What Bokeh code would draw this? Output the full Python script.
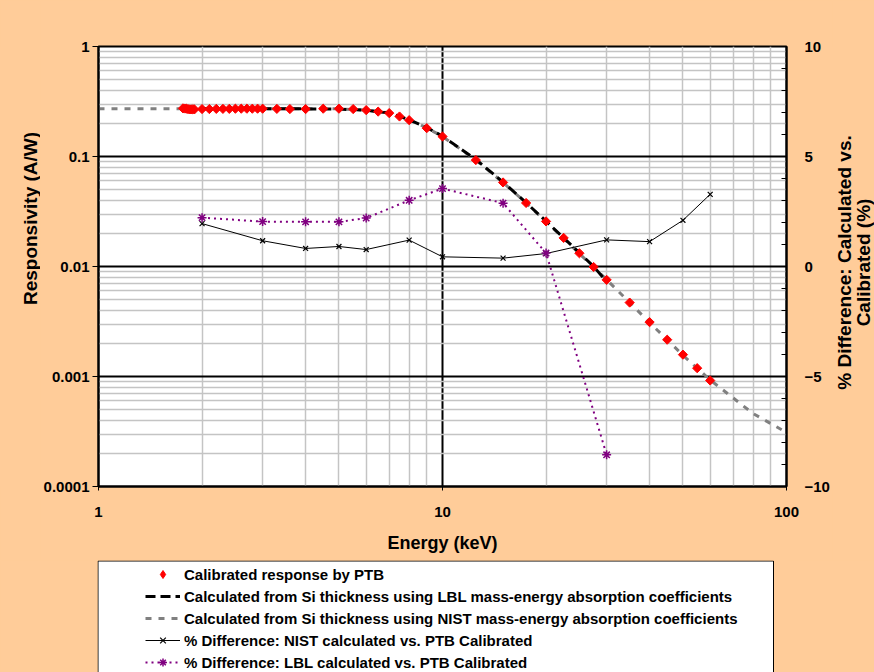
import numpy as np
from bokeh.plotting import figure
from bokeh.layouts import column, row
from bokeh.models import (Range1d, LinearAxis, LinearScale, FixedTicker,
                          CustomJSTickFormatter, Legend, LegendItem, Label)
from bokeh.embed import file_html
from bokeh.resources import INLINE

# ---------------- data ----------------
ptb_energy = [1.76, 1.78, 1.80, 1.82, 1.84, 1.86, 1.88, 1.90,
              2.0, 2.1, 2.2, 2.3, 2.4, 2.5, 2.6, 2.7, 2.8, 2.9, 3.0,
              3.3, 3.6, 4.0, 4.5, 5.0, 5.5, 6.0, 6.5, 7.0, 7.5, 8.0, 9.0, 10.0,
              12.5, 15, 17.5, 20, 22.5, 25, 27.5, 30, 35, 40, 45, 50, 55, 60]
ptb_resp = [0.274, 0.273, 0.272, 0.270, 0.268, 0.268, 0.269, 0.268,
            0.270, 0.270, 0.271, 0.271, 0.271, 0.272, 0.272, 0.272, 0.272, 0.272, 0.272,
            0.271, 0.270, 0.270, 0.272, 0.272, 0.270, 0.264, 0.256, 0.248, 0.231, 0.214, 0.181, 0.152,
            0.0928, 0.0581, 0.0378, 0.0257, 0.0182, 0.0132, 0.0099, 0.00756,
            0.0047, 0.00312, 0.00216, 0.00158, 0.00119, 0.00092]

lbl_energy = [1.8, 2, 3, 4, 5, 6, 7, 8, 9, 10, 12.5, 15, 17.5, 20, 22.5, 25, 27.5, 30]
lbl_resp = [0.271, 0.271, 0.271, 0.271, 0.270, 0.263, 0.248, 0.216, 0.183, 0.153,
            0.094, 0.0585, 0.038, 0.0258, 0.0182, 0.0133, 0.0100, 0.0073]

nist_energy = [1, 1.5, 2, 3, 4, 5, 6, 7, 8, 9, 10, 12.5, 15, 17.5, 20, 25, 30, 40, 50, 60, 80, 100]
nist_resp = [0.272, 0.272, 0.272, 0.272, 0.272, 0.271, 0.264, 0.249, 0.216, 0.182, 0.152,
             0.093, 0.058, 0.0378, 0.0256, 0.0131, 0.0076, 0.00309, 0.00156, 0.00093,
             0.00046, 0.00031]

nist_diff_energy = [2, 3, 4, 5, 6, 8, 10, 15, 20, 30, 40, 50, 60]
nist_diff = [1.95, 1.17, 0.82, 0.91, 0.77, 1.20, 0.44, 0.38, 0.59, 1.21, 1.13, 2.10, 3.28]

lbl_diff_energy = [2, 3, 4, 5, 6, 8, 10, 15, 20, 30]
lbl_diff = [2.22, 2.04, 2.03, 2.03, 2.20, 3.01, 3.54, 2.88, 0.61, -8.56]

x_ticks = [1, 10, 100]
y_ticks = [0.0001, 0.001, 0.01, 0.1, 1]
pct_ticks = [-10, -5, 0, 5, 10]

legend_labels = [
    "Calibrated response by PTB",
    "Calculated from Si thickness using LBL mass-energy absorption coefficients",
    "Calculated from Si thickness using NIST mass-energy absorption coefficients",
    "% Difference: NIST calculated vs. PTB Calibrated",
    "% Difference: LBL calculated vs. PTB Calibrated",
]
left_title = "Responsivity (A/W)"
right_title = ["% Difference: Calculated vs.", "Calibrated (%)"]

# ---------------- layout constants (pixels) ----------------
FONT = "Liberation Sans"
BG = "#FFCC99"
W, H_TOP, H_LEG = 874, 560, 112
TOP, BOT = 46, 74                 # frame top / bottom borders of the chart row
FRAME_L, FRAME_R = 97, 788        # frame edges on the page
W_TL, W_TR = 40, 42               # side strips holding the rotated axis titles
P_LEFT = FRAME_L - W_TL
P_RIGHT = W - W_TR - FRAME_R
W_P = W - W_TL - W_TR

S_PTB = dict(marker="square", angle=np.pi / 4, size=6.5, fill_color="red",
             line_color="red", line_width=1)
S_PTB_LEG = dict(marker="diamond", size=9, fill_color="red", line_color="red", line_width=1)
S_LBL = dict(line_color="black", line_width=3, line_dash="10 5")
S_NIST = dict(line_color="#808080", line_width=3, line_dash="6 7")
S_ND_L = dict(line_color="black", line_width=1)
S_ND_M = dict(marker="x", size=7, line_color="black", line_width=1.2)
S_LD_L = dict(line_color="#800080", line_width=2, line_dash="2 4")
S_LD_M = dict(marker="asterisk", size=9, line_color="#800080", line_width=1.5)


def strip(width, height, top, bottom):
    f = figure(width=width, height=height, x_range=Range1d(0, width),
               y_range=Range1d(bottom, height - top),
               output_backend="svg", toolbar_location=None,
               x_axis_location=None, y_axis_location=None,
               min_border_left=0, min_border_right=0,
               min_border_top=top, min_border_bottom=bottom)
    f.grid.visible = False
    f.border_fill_color = BG
    f.background_fill_alpha = 0
    f.outline_line_color = None
    return f


def title_label(x, y, text):
    return Label(x=x, y=y, text=text, angle=np.pi / 2,
                 text_align="center", text_baseline="middle",
                 text_font=FONT, text_font_style="bold", text_font_size="19px",
                 text_color="black")

# ---------------- main figure ----------------
p = figure(width=W_P, height=H_TOP, x_axis_type="log", y_axis_type="log",
           x_range=Range1d(1, 100), y_range=Range1d(0.0001, 1),
           output_backend="svg", toolbar_location=None,
           min_border_left=P_LEFT, min_border_right=P_RIGHT, min_border_top=TOP,
           min_border_bottom=BOT)
p.border_fill_color = BG
p.background_fill_color = "white"
p.outline_line_color = "black"
p.outline_line_width = 2

x_minor = [m * d for d in (1, 10) for m in range(2, 10)]
y_minor = [m * d for d in (0.0001, 0.001, 0.01, 0.1) for m in range(2, 10)]
p.xaxis.ticker = FixedTicker(ticks=x_ticks, minor_ticks=x_minor)
p.yaxis.ticker = FixedTicker(ticks=y_ticks, minor_ticks=y_minor)
fmt = CustomJSTickFormatter(code="return tick.toString();")
p.xaxis.formatter = fmt
p.yaxis.formatter = fmt

for g in (p.xgrid, p.ygrid):
    g.grid_line_color = "black"
    g.grid_line_width = 2
    g.minor_grid_line_color = "#c4c4c4"
    g.minor_grid_line_width = 1.5


def style_axis(ax):
    ax.axis_line_color = "black"
    ax.axis_line_width = 2
    ax.major_tick_line_color = "black"
    ax.major_tick_line_width = 1
    ax.major_label_text_font = FONT
    ax.major_label_text_font_style = "bold"
    ax.major_label_text_font_size = "15px"
    ax.major_label_text_color = "black"
    ax.axis_label_text_font = FONT
    ax.axis_label_text_font_style = "bold"
    ax.axis_label_text_font_size = "18px"
    ax.axis_label_text_color = "black"


for ax in (p.xaxis[0], p.yaxis[0]):
    style_axis(ax)
    ax.minor_tick_line_color = None
    ax.major_tick_in = 0

p.xaxis.major_tick_out = 4
p.xaxis.major_label_standoff = 16
p.xaxis.axis_label = "Energy (keV)"
p.xaxis.axis_label_standoff = 13

p.yaxis.major_tick_out = 6
p.yaxis.major_label_standoff = 3

p.extra_y_ranges = {"pct": Range1d(-10, 10)}
p.extra_y_scales = {"pct": LinearScale()}
rax = LinearAxis(y_range_name="pct",
                 ticker=FixedTicker(ticks=pct_ticks, minor_ticks=list(range(-10, 11))))
style_axis(rax)
rax.major_tick_in = 6
rax.major_tick_out = 0
rax.minor_tick_in = 5
rax.minor_tick_out = 0
rax.minor_tick_line_color = "black"
rax.major_label_standoff = 18
p.add_layout(rax, "right")

# ---------------- series ----------------
p.line(nist_energy, nist_resp, **S_NIST)
p.line(lbl_energy, lbl_resp, **S_LBL)
p.line(nist_diff_energy, nist_diff, y_range_name="pct", **S_ND_L)
p.scatter(nist_diff_energy, nist_diff, y_range_name="pct", **S_ND_M)
p.line(lbl_diff_energy, lbl_diff, y_range_name="pct", **S_LD_L)
p.scatter(lbl_diff_energy, lbl_diff, y_range_name="pct", **S_LD_M)
p.scatter(ptb_energy, ptb_resp, **S_PTB)

# ---------------- side strips with the rotated axis titles ----------------
tl = strip(W_TL, H_TOP, TOP, BOT)
tl.add_layout(title_label(30, H_TOP - 218, left_title))

tr = strip(W_TR, H_TOP, TOP, BOT)
x0 = FRAME_R + P_RIGHT
tr.add_layout(title_label(844 - x0, H_TOP - 262, right_title[0]))
tr.add_layout(title_label(863 - x0, H_TOP - 262, right_title[1]))

# ---------------- legend panel (pixel coordinates, frame under the chart frame) ----------------
q = figure(width=W, height=H_LEG, x_range=Range1d(FRAME_L, FRAME_R), y_range=Range1d(0, H_LEG),
           output_backend="svg", toolbar_location=None,
           x_axis_location=None, y_axis_location=None,
           min_border_left=FRAME_L, min_border_right=W - FRAME_R, min_border_top=0,
           min_border_bottom=0)
q.grid.visible = False
q.border_fill_color = BG
q.background_fill_alpha = 0
q.outline_line_color = None
q.quad(left=[FRAME_L + 0.5], right=[773], bottom=[-20], top=[H_LEG - 0.5],
       fill_color="white", line_color="black", line_width=1)

# invisible proxies (NaN) so the legend can draw each series' glyph
nan = ([np.nan], [np.nan])
l_ptb = q.scatter(*nan, **S_PTB_LEG)
l_lbl = q.line(*nan, **S_LBL)
l_nist = q.line(*nan, **S_NIST)
l_ndl = q.line(*nan, **S_ND_L)
l_ndm = q.scatter(*nan, **S_ND_M)
l_ldl = q.line(*nan, **S_LD_L)
l_ldm = q.scatter(*nan, **S_LD_M)

legend = Legend(items=[
    LegendItem(label=legend_labels[0], renderers=[l_ptb]),
    LegendItem(label=legend_labels[1], renderers=[l_lbl]),
    LegendItem(label=legend_labels[2], renderers=[l_nist]),
    LegendItem(label=legend_labels[3], renderers=[l_ndl, l_ndm]),
    LegendItem(label=legend_labels[4], renderers=[l_ldl, l_ldm]),
], location=(141 - FRAME_L, -4))
legend.background_fill_alpha = 0
legend.border_line_alpha = 0
legend.padding = 4
legend.spacing = 2
legend.glyph_width = 35
legend.glyph_height = 20
legend.label_height = 20
legend.label_standoff = 4
legend.margin = 0
legend.label_text_font = FONT
legend.label_text_font_style = "bold"
legend.label_text_font_size = "15px"
legend.label_text_color = "black"
q.add_layout(legend)

top_row = row(tl, p, tr, spacing=0, styles={"background-color": BG})
layout = column(top_row, q, spacing=0, styles={"background-color": BG})
open("out.html", "w").write(file_html(layout, INLINE))
